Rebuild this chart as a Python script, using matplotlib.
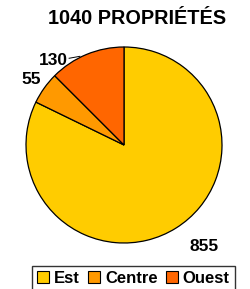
import numpy as np
import matplotlib
matplotlib.use("Agg")
import matplotlib.pyplot as plt
from matplotlib.patches import Patch

categories = ["Est", "Centre", "Ouest"]
values = [855, 55, 130]
colors = ["#FFCC00", "#FF9900", "#FF6600"]
title = "1040 PROPRIÉTÉS"

plt.rcParams['font.family'] = ['Liberation Sans', 'DejaVu Sans']

W, H = 251, 289
fig = plt.figure(figsize=(W/100, H/100), dpi=100)
cx, cy, r = 124, 145, 98
ax = fig.add_axes([(cx-r)/W, (H-cy-r)/H, 2*r/W, 2*r/H])
wedges, _ = ax.pie(values, colors=colors, startangle=90, counterclock=False,
                   wedgeprops=dict(edgecolor="black", linewidth=0.9))
ax.set_xlim(-1, 1); ax.set_ylim(-1, 1)
ax.set_aspect('auto')
ax.axis('off')

fs = 12.5
# label placement (text anchor positions, axes data units)
ax.text(0.82, -1.04, str(values[0]), ha='center', va='center', fontsize=fs,
        fontweight='bold', clip_on=False)
ax.text(-0.85, 0.673, str(values[1]), ha='right', va='center', fontsize=fs,
        fontweight='bold', clip_on=False)
ax.text(-0.57, 0.867, str(values[2]), ha='right', va='center', fontsize=fs,
        fontweight='bold', clip_on=False)
ax.plot([-0.56, -0.45], [0.885, 0.905], color='black', lw=0.7, clip_on=False)

fig.text(137/W, 1-19/H, title, ha='center', va='center', fontsize=14.3, fontweight='bold')

handles = [Patch(facecolor=c, edgecolor='black', linewidth=0.8) for c in colors]
leg = fig.legend(handles, categories, loc='upper center', bbox_to_anchor=(133.5/W, 1-266/H),
                 ncol=3, frameon=True, fancybox=False, edgecolor='black',
                 prop=dict(weight='bold', size=12), handlelength=0.7, handleheight=0.7,
                 handletextpad=0.3, columnspacing=0.5, borderpad=0.3, borderaxespad=0)
leg.get_frame().set_linewidth(1.0)

fig.savefig("out.png", dpi=100)
